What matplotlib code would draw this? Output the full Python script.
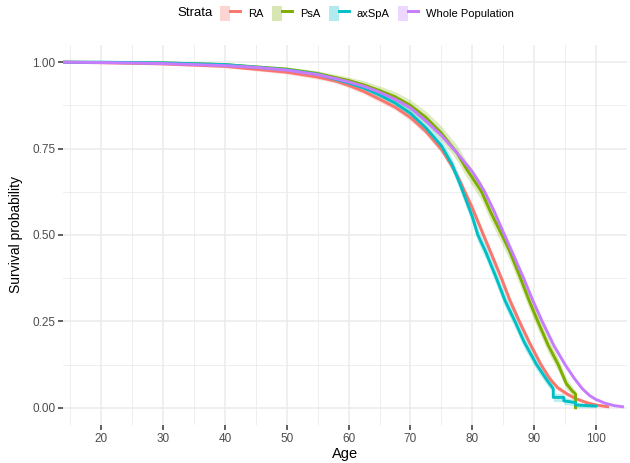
import numpy as np
import matplotlib
matplotlib.use('Agg')
from matplotlib import pyplot as plt
from matplotlib.patches import Patch
from matplotlib.lines import Line2D
from matplotlib.legend_handler import HandlerTuple

plt.rcParams['font.family'] = ['Liberation Sans', 'DejaVu Sans']

# datos (edad, supervivencia, semiancho del IC)
edad_ra = [13.8, 25, 30, 40, 50, 55, 58, 60, 62.5, 65, 67.5, 70, 72.5, 75, 76.7, 78, 79.1, 80, 81.8, 83.2,
           84.7, 86.1, 87.6, 89.2, 91.1, 92.5, 93.8, 95.5, 96.8, 98.5, 100, 101.9]
surv_ra = [1.0, 0.997, 0.995, 0.988, 0.971, 0.957, 0.945, 0.933, 0.915, 0.893, 0.87, 0.84, 0.8, 0.748, 0.70, 0.655, 0.613, 0.578, 0.5, 0.44,
           0.375, 0.31, 0.25, 0.19, 0.125, 0.085, 0.058, 0.038, 0.026, 0.015, 0.008, 0.003]
ic_ra = [0.0, 0.003, 0.003, 0.004, 0.005, 0.006, 0.006, 0.007, 0.007, 0.008, 0.008, 0.009, 0.01, 0.01, 0.011, 0.011, 0.011, 0.012, 0.012, 0.012,
         0.012, 0.012, 0.011, 0.01, 0.009, 0.008, 0.007, 0.006, 0.005, 0.004, 0.003, 0.002]

edad_psa = [13.8, 30, 40, 50, 55, 60, 62.5, 65, 67.5, 70, 72.5, 75, 77.5, 79.1, 80, 81.5, 83, 84.8, 86, 87.8,
            89.2, 90.6, 92.3, 93.9, 95.2, 96.2, 96.7, 96.7]
surv_psa = [1.0, 0.998, 0.993, 0.98, 0.967, 0.947, 0.934, 0.918, 0.9, 0.875, 0.84, 0.795, 0.738, 0.69, 0.666, 0.625, 0.565, 0.5, 0.455, 0.375,
            0.31, 0.25, 0.18, 0.125, 0.07, 0.048, 0.04, 0.0]
ic_psa = [0.0, 0.003, 0.004, 0.006, 0.008, 0.01, 0.012, 0.013, 0.015, 0.016, 0.018, 0.02, 0.022, 0.023, 0.024, 0.025, 0.026, 0.026, 0.026, 0.025,
          0.024, 0.023, 0.021, 0.019, 0.016, 0.012, 0.01, 0.0]

edad_ax = [13.8, 20, 30, 40, 50, 55, 60, 62.5, 65, 67.5, 70, 72.5, 75, 76.7, 78, 79.1, 80, 80.9, 82.2, 83.9,
           85.3, 86.9, 88.4, 90.4, 92, 93.1, 93.1, 94.8, 94.8, 96.7, 96.7, 100]
surv_ax = [1.0, 1.0, 0.998, 0.993, 0.978, 0.965, 0.94, 0.925, 0.905, 0.882, 0.852, 0.81, 0.758, 0.705, 0.648, 0.596, 0.553, 0.5, 0.45, 0.375,
           0.31, 0.25, 0.19, 0.125, 0.082, 0.055, 0.03, 0.03, 0.02, 0.015, 0.008, 0.005]
ic_ax = [0.0, 0.002, 0.003, 0.004, 0.006, 0.008, 0.01, 0.011, 0.012, 0.013, 0.014, 0.016, 0.017, 0.018, 0.019, 0.02, 0.02, 0.02, 0.02, 0.02,
         0.02, 0.019, 0.018, 0.016, 0.014, 0.013, 0.012, 0.012, 0.01, 0.01, 0.008, 0.006]

edad_tot = [13.8, 20, 30, 40, 45, 50, 55, 58, 60, 62.5, 65, 67.5, 70, 72.5, 75, 77.5, 80, 81, 82, 83.5,
            85.2, 86.7, 88.3, 89.8, 91.3, 93.2, 95, 96.5, 97.8, 99, 100, 101.5, 103, 104.3]
surv_tot = [1.0, 0.999, 0.996, 0.99, 0.985, 0.977, 0.964, 0.952, 0.943, 0.93, 0.913, 0.893, 0.868, 0.83, 0.788, 0.738, 0.683, 0.655, 0.625, 0.57,
            0.5, 0.44, 0.375, 0.31, 0.25, 0.18, 0.125, 0.085, 0.055, 0.035, 0.024, 0.013, 0.006, 0.003]
ic_tot = [0.0, 0.001, 0.002, 0.002, 0.003, 0.003, 0.004, 0.004, 0.004, 0.005, 0.005, 0.005, 0.005, 0.006, 0.006, 0.006, 0.006, 0.006, 0.006, 0.006,
          0.006, 0.006, 0.006, 0.006, 0.006, 0.005, 0.005, 0.005, 0.004, 0.004, 0.003, 0.003, 0.002, 0.002]

estratos = ['RA', 'PsA', 'axSpA', 'Whole Population']
colores = ['#F8766D', '#7CAE00', '#00BFC4', '#C77CFF']

series = [(edad_ra, surv_ra, ic_ra),
          (edad_psa, surv_psa, ic_psa),
          (edad_ax, surv_ax, ic_ax),
          (edad_tot, surv_tot, ic_tot)]

fig = plt.figure(figsize=(6.3, 4.63), dpi=100)
ax = fig.add_axes([0.1, 0.082, 0.895, 0.821])

for (x, s, e), c in zip(series, colores):
    x = np.array(x)
    s = np.array(s)
    e = np.array(e)
    ax.fill_between(x, np.clip(s - e, 0, 1), np.clip(s + e, 0, 1), color=c, alpha=0.25, lw=0)

for (x, s, e), c in zip(series, colores):
    ax.plot(x, s, color=c, lw=2.1, solid_joinstyle='round')

ax.set_xlim(13.8, 104.3)
ax.set_ylim(-0.05, 1.05)
ax.set_xticks(np.arange(20, 101, 10))
ax.set_xticks(np.arange(15, 106, 10), minor=True)
ax.set_yticks([0, 0.25, 0.5, 0.75, 1.0])
ax.set_yticklabels(['0.00', '0.25', '0.50', '0.75', '1.00'])
ax.set_yticks([0.125, 0.375, 0.625, 0.875], minor=True)

ax.grid(which='major', color='#EBEBEB', lw=1.1)
ax.grid(which='minor', color='#EBEBEB', lw=0.6)
ax.set_axisbelow(True)
for sp in ax.spines.values():
    sp.set_visible(False)

ax.tick_params(which='major', length=3.5, width=1.1, color='#333333', labelcolor='#4D4D4D', labelsize=8.5, pad=2)
ax.tick_params(which='minor', length=0)

ax.set_xlabel('Age', fontsize=10.5, color='black', labelpad=2)
ax.set_ylabel('Survival probability', fontsize=10, color='black', labelpad=7)

# leyenda arriba
fig.text(0.338, 0.971, 'Strata', fontsize=9.5, ha='right', va='center')
manijas = [(Patch(facecolor=c, alpha=0.3, edgecolor='none'), Line2D([], [], color=c, lw=2.1)) for c in colores]
fig.legend(manijas, estratos, handler_map={tuple: HandlerTuple(ndivide=None, pad=0)},
           loc='center left', bbox_to_anchor=(0.349, 0.971), ncol=4, frameon=False,
           fontsize=8, handlelength=1.8, handleheight=1.8, handletextpad=0.7,
           columnspacing=0.8, borderpad=0, borderaxespad=0)

fig.savefig('out.png', dpi=100)
